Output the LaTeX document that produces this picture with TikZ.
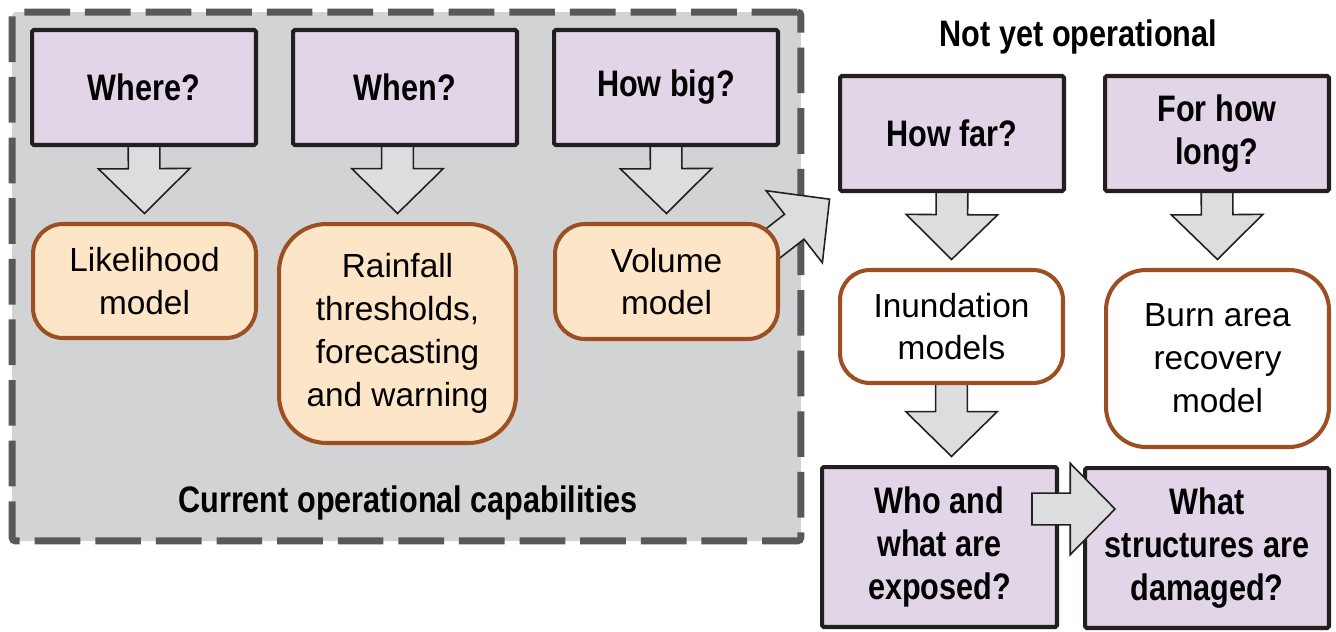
\documentclass[tikz,border=0pt]{standalone}
\usepackage{fontspec}
\setmainfont{Liberation Sans}
\newfontfamily\headfont{Liberation Sans}[FakeStretch=0.83]
\usetikzlibrary{calc}

\definecolor{questfill}{RGB}{226,213,232}
\definecolor{questline}{RGB}{35,31,32}
\definecolor{modelfill}{RGB}{253,229,200}
\definecolor{modelline}{RGB}{155,79,35}
\definecolor{arrowfill}{RGB}{220,221,223}
\definecolor{panelfill}{RGB}{209,211,212}
\definecolor{panelline}{RGB}{88,89,91}

\pgfdeclarelayer{back}
\pgfdeclarelayer{arrowlayer}
\pgfsetlayers{back,arrowlayer,main}

% fat block arrow from #2 to #3, tip stops #1 short of #3
\newcommand{\fatarrow}[3][6pt]{%
  \draw[bigarrow] let \p1=(#2), \p2=(#3),
      \n1={atan2(\y2-\y1,\x2-\x1)},
      \n2={veclen(\x2-\x1,\y2-\y1)-#1} in
    [shift={(\p1)}, rotate=\n1]
    (0pt,-9pt) -- ({\n2*1pt-25.5pt},-9pt) -- ({\n2*1pt-25.5pt},-26pt) -- ({\n2*1pt},0pt)
    -- ({\n2*1pt-25.5pt},26pt) -- ({\n2*1pt-25.5pt},9pt) -- (0pt,9pt) -- cycle;}

\begin{document}
\begin{tikzpicture}[x=0.02cm, y=-0.02cm]
    % Stili
    \tikzset{
        question/.style={rectangle, draw=questline, fill=questfill, line width=2.3pt, rounded corners=1pt, outer sep=0pt, inner sep=0pt, align=center, minimum width=4.48cm, minimum height=2.3cm, font=\headfont\bfseries\fontsize{21}{24.4}\selectfont},
        model/.style={rectangle, draw=modelline, fill=modelfill, line width=2.3pt, rounded corners=0.6cm, outer sep=0pt, inner sep=0pt, align=center, minimum width=4.46cm, minimum height=2.28cm, font=\fontsize{19}{24.4}\selectfont},
        panel/.style={rectangle, draw=panelline, fill=panelfill, line width=4pt, dash pattern=on 26pt off 8.5pt, rounded corners=2pt, minimum width=15.78cm, minimum height=10.58cm},
        caption/.style={font=\headfont\bfseries\fontsize{21}{24.4}\selectfont},
        bigarrow/.style={draw=questline, fill=arrowfill, line width=0.9pt}
    }
    \useasboundingbox (0,0) rectangle (1336,632);

    % Pannello operativo
    \begin{pgfonlayer}{back}
        \node[panel] (current) at (406.5,276.5) {};
    \end{pgfonlayer}
    \node[caption] (currentcap) at (408,503) {Current operational capabilities};

    % Domande operative
    \node[question] (where) at (144,87.5) {Where?};
    \node[question] (when) at (405,87.5) {When?};
    \node[question] (howbig) at (666,87.5) {How big?};

    % Modelli operativi
    \node[model] (likelihood) at (144.5,281) {Likelihood\\model};
    \node[model, minimum width=4.74cm, minimum height=4.38cm, rounded corners=0.95cm] (rainfall) at (397.5,333.5) {Rainfall\\thresholds,\\forecasting\\and warning};
    \node[model, minimum height=2.3cm] (volume) at (666.5,281.5) {Volume\\model};

    % Non ancora operativo
    \node[caption] (notyet) at (1078.5,37) {Not yet operational};
    \node[question] (howfar) at (952,133.5) {How far?};
    \node[question] (howlong) at (1217,133.5) {For how\\long?};
    \node[model, fill=white, minimum height=2.26cm] (inundation) at (951.5,326.5) {Inundation\\models};
    \node[model, fill=white, minimum height=3.54cm, rounded corners=0.8cm] (burn) at (1217.5,358.5) {Burn area\\recovery\\model};
    \node[question, minimum width=4.70cm, minimum height=3.2cm] (exposed) at (939.5,547) {Who and\\what are\\exposed?};
    \node[question, minimum width=4.88cm, minimum height=3.2cm] (damaged) at (1207,548) {What\\structures are\\damaged?};

    % Frecce
    \coordinate (volout) at ($(volume.east)+(-18,-28)$);
    \coordinate (expout) at ($(exposed.east)+(-25,-38)$);
    \coordinate (damin) at ($(damaged.west)+(30,-39)$);
    \begin{pgfonlayer}{arrowlayer}
        \fatarrow{where.south}{likelihood.north}
        \fatarrow{rainfall.north |- when.south}{rainfall.north}
        \fatarrow{howbig.south}{volume.north}
        \fatarrow[7.5pt]{volout}{howfar.south west}
        \fatarrow{howfar.south}{inundation.north}
        \fatarrow{howlong.south}{burn.north}
        \fatarrow{inundation.south}{inundation.south |- exposed.north}
    \end{pgfonlayer}
    \fatarrow[0pt]{expout}{damin}

\end{tikzpicture}
\end{document}
